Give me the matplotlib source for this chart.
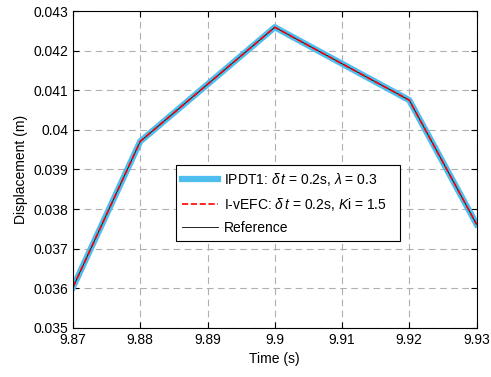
import matplotlib
matplotlib.use("Agg")
import matplotlib.pyplot as plt

plt.rcParams["font.family"] = ["Liberation Sans", "DejaVu Sans"]
plt.rcParams["mathtext.fontset"] = "custom"
plt.rcParams["mathtext.rm"] = "Liberation Sans"
plt.rcParams["mathtext.it"] = "Liberation Sans:italic"
plt.rcParams["font.size"] = 10

# data
time_s = [9.87, 9.88, 9.90, 9.92, 9.93]
displacement = [0.03603, 0.03971, 0.04259, 0.04075, 0.03762]

x_ticks = [9.87, 9.88, 9.89, 9.90, 9.91, 9.92, 9.93]
x_tick_labels = ["9.87", "9.88", "9.89", "9.9", "9.91", "9.92", "9.93"]
y_ticks = [0.035, 0.036, 0.037, 0.038, 0.039, 0.040, 0.041, 0.042, 0.043]
y_tick_labels = ["0.035", "0.036", "0.037", "0.038", "0.039", "0.04", "0.041", "0.042", "0.043"]

fig = plt.figure(figsize=(4.91, 3.77), dpi=100)
ax = fig.add_axes([0.1487, 0.130, 0.8218, 0.8408])

ax.plot(time_s, displacement, color="#4DBEEE", lw=4.5, zorder=2.0,
        label=r"IPDT1: $\delta\,t$ = 0.2s, $\lambda$ = 0.3")
ax.plot(time_s, displacement, "--", color="red", lw=1.2, zorder=2.2,
        label=r"I-vEFC: $\delta\,t$ = 0.2s, $K$i = 1.5")
ax.plot(time_s, displacement, "-", color="black", lw=0.6, zorder=2.1,
        label="Reference")

ax.set_xlim(9.87, 9.93)
ax.set_ylim(0.035, 0.043)
ax.set_xticks(x_ticks)
ax.set_xticklabels(x_tick_labels)
ax.set_yticks(y_ticks)
ax.set_yticklabels(y_tick_labels)
ax.tick_params(direction="in", top=True, right=True, length=4, width=0.8)
ax.grid(True, linestyle=(0, (6, 4)), color="#b0b0b0", lw=0.8)
for sp in ax.spines.values():
    sp.set_linewidth(0.8)

ax.set_xlabel("Time (s)")
ax.set_ylabel("Displacement (m)")

leg_top = 1 - 165 / 377
leg = ax.legend(loc="upper left",
                bbox_to_anchor=(176 / 491, leg_top - 0.3, 224 / 491, 0.3),
                bbox_transform=fig.transFigure, mode="expand",
                fancybox=False, framealpha=1, edgecolor="black",
                handlelength=2.6, handletextpad=0.4, labelspacing=0.55,
                borderpad=0.45, borderaxespad=0)
leg.get_frame().set_linewidth(0.8)

fig.savefig("out.png", dpi=100)
